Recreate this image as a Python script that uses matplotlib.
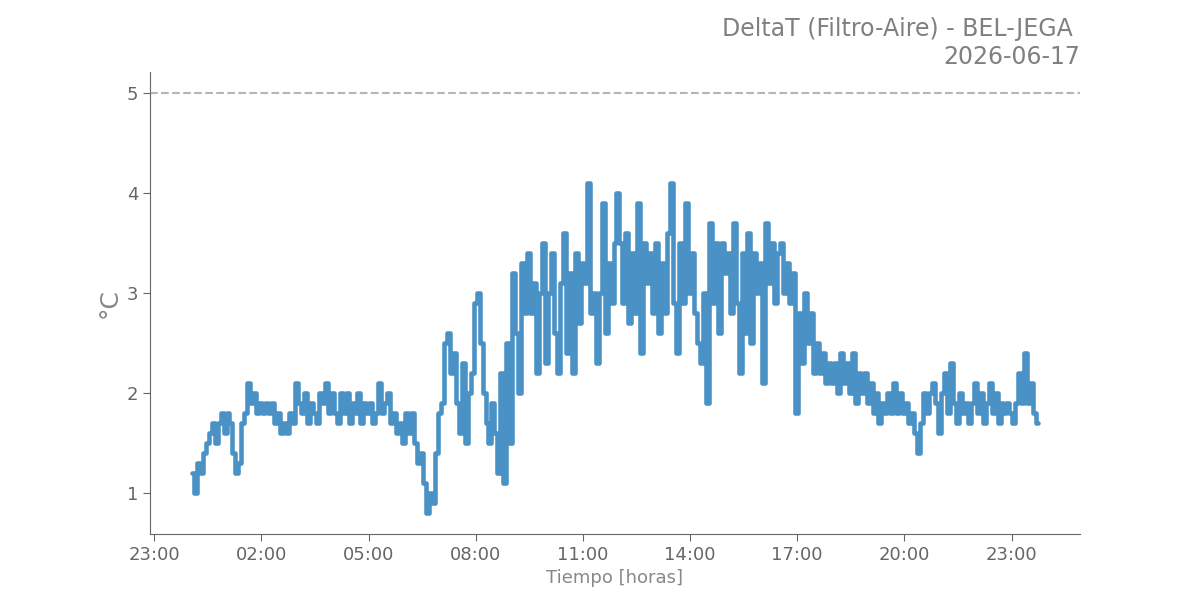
import matplotlib
matplotlib.use("Agg")
import matplotlib.pyplot as plt
import matplotlib.dates as mdates
import numpy as np
import pandas as pd

# 5-minute samples of DeltaT, one list per hour (starting 00:04)
h00 = [1.2, 1.0, 1.3, 1.2, 1.4, 1.5, 1.6, 1.7, 1.5, 1.7, 1.8, 1.6]
h01 = [1.8, 1.7, 1.4, 1.2, 1.3, 1.7, 1.8, 2.1, 1.9, 2.0, 1.8, 1.9]
h02 = [1.8, 1.9, 1.8, 1.9, 1.7, 1.8, 1.6, 1.7, 1.6, 1.8, 1.7, 2.1]
h03 = [1.9, 1.8, 2.0, 1.7, 1.9, 1.8, 1.7, 2.0, 1.9, 2.1, 1.8, 2.0]
h04 = [1.8, 1.7, 2.0, 1.8, 2.0, 1.7, 1.9, 1.8, 2.0, 1.7, 1.9, 1.8]
h05 = [1.9, 1.7, 1.8, 2.1, 1.8, 1.9, 2.0, 1.7, 1.8, 1.6, 1.7, 1.5]
h06 = [1.8, 1.6, 1.8, 1.5, 1.3, 1.4, 1.1, 0.8, 1.0, 0.9, 1.4, 1.8]
h07 = [1.9, 2.5, 2.6, 2.2, 2.4, 1.9, 1.6, 2.3, 1.5, 2.0, 2.2, 2.9]
h08 = [3.0, 2.5, 2.0, 1.7, 1.5, 1.9, 1.6, 1.2, 2.2, 1.1, 2.5, 1.5]
h09 = [3.2, 2.6, 2.0, 3.3, 2.8, 3.4, 2.8, 3.1, 2.2, 3.0, 3.5, 2.3]
h10 = [3.0, 3.4, 2.6, 2.2, 3.1, 3.6, 2.4, 3.2, 2.2, 3.4, 2.7, 3.3]
h11 = [3.1, 4.1, 2.8, 3.0, 2.3, 3.0, 3.9, 2.6, 3.3, 2.9, 3.5, 4.0]
h12 = [3.5, 2.9, 3.6, 2.7, 3.4, 2.8, 3.9, 2.4, 3.5, 3.1, 3.4, 2.8]
h13 = [3.5, 2.6, 3.3, 2.8, 3.6, 4.1, 2.9, 2.4, 3.5, 2.9, 3.9, 3.0]
h14 = [3.4, 2.8, 2.5, 2.3, 3.0, 1.9, 3.7, 2.9, 3.5, 2.6, 3.5, 3.2]
h15 = [3.4, 2.8, 3.7, 2.9, 2.2, 3.4, 2.6, 3.6, 2.5, 3.4, 3.0, 3.3]
h16 = [2.1, 3.7, 3.1, 3.5, 2.9, 3.4, 3.5, 3.0, 3.3, 2.9, 3.2, 1.8]
h17 = [2.8, 2.3, 3.0, 2.5, 2.8, 2.2, 2.5, 2.2, 2.4, 2.1, 2.3, 2.1]
h18 = [2.3, 2.0, 2.4, 2.1, 2.3, 2.0, 2.4, 1.9, 2.2, 2.0, 2.2, 1.9]
h19 = [2.1, 1.8, 2.0, 1.7, 1.9, 1.8, 2.0, 1.8, 2.1, 1.8, 2.0, 1.8]
h20 = [1.9, 1.7, 1.8, 1.6, 1.4, 1.7, 2.0, 1.8, 2.0, 2.1, 1.9, 1.6]
h21 = [2.0, 2.2, 1.8, 2.3, 1.9, 1.7, 2.0, 1.8, 1.9, 1.7, 1.9, 2.1]
h22 = [1.8, 2.0, 1.7, 1.9, 2.1, 1.8, 2.0, 1.7, 1.9, 1.8, 1.9, 1.8]
h23 = [1.7, 1.9, 2.2, 1.9, 2.4, 1.9, 2.1, 1.8, 1.7]

values = (h00 + h01 + h02 + h03 + h04 + h05 + h06 + h07 + h08 + h09 + h10 + h11 +
          h12 + h13 + h14 + h15 + h16 + h17 + h18 + h19 + h20 + h21 + h22 + h23)
times = pd.date_range("2026-06-17 00:04", periods=len(values), freq="5min")

threshold = 5
title = "DeltaT (Filtro-Aire) - BEL-JEGA \n2026-06-17"
xlabel = "Tiempo [horas]"
ylabel = "°C"

fig, ax = plt.subplots(figsize=(12, 6), dpi=100)
ax.plot(times, values, color="#4a92c6", lw=3.3, drawstyle="steps-mid",
        solid_joinstyle="round", solid_capstyle="round")
ax.axhline(threshold, color="#b5b5b5", ls="--", lw=1.5)

ax.xaxis.set_major_locator(mdates.HourLocator(byhour=[23, 2, 5, 8, 11, 14, 17, 20]))
ax.xaxis.set_major_formatter(mdates.DateFormatter("%H:%M"))
ax.set_yticks([1, 2, 3, 4, 5])

grey = "#666666"
for s in ["top", "right"]:
    ax.spines[s].set_visible(False)
for s in ["left", "bottom"]:
    ax.spines[s].set_color(grey)
ax.tick_params(colors=grey, labelsize=13, length=5)
ax.set_xlabel(xlabel, fontsize=13, color="#888888")
ax.set_ylabel(ylabel, fontsize=18, color="#888888")
ax.set_title(title, loc="right", fontsize=17, color="#808080")

fig.savefig("out.png")
